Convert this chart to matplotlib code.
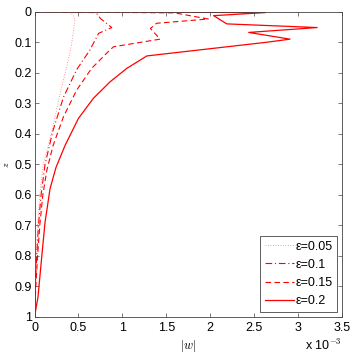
import matplotlib
matplotlib.use('Agg')
import matplotlib.pyplot as plt

plt.rcParams['font.family'] = ['Liberation Sans', 'DejaVu Sans']
plt.rcParams['mathtext.fontset'] = 'cm'

# |w| in units of 1e-3, against depth z
z_02 = [0, 0.003, 0.013, 0.04, 0.052, 0.068, 0.09, 0.10, 0.145, 0.186, 0.23, 0.284,
        0.35, 0.437, 0.51, 0.58, 0.69, 0.81, 0.934, 1.0]
w_02 = [0, 2.63, 2.04, 2.19, 3.22, 2.44, 2.91, 2.65, 1.28, 1.05, 0.86, 0.67,
        0.50, 0.35, 0.245, 0.177, 0.12, 0.08, 0.04, 0]

z_015 = [0, 0.004, 0.012, 0.024, 0.038, 0.055, 0.09, 0.115, 0.131, 0.186, 0.257,
         0.344, 0.44, 0.52, 0.6, 0.7, 0.8, 0.9, 1.0]
w_015 = [0, 1.6, 1.75, 1.98, 1.39, 1.32, 1.43, 0.90, 0.84, 0.65, 0.48,
         0.33, 0.21, 0.14, 0.095, 0.06, 0.035, 0.015, 0]

z_01 = [0, 0.003, 0.022, 0.052, 0.071, 0.126, 0.19, 0.28, 0.39, 0.5, 0.6, 0.7,
        0.8, 0.9, 1.0]
w_01 = [0, 0.70, 0.75, 0.88, 0.73, 0.63, 0.48, 0.33, 0.21, 0.12, 0.075, 0.045,
        0.025, 0.01, 0]

z_005 = [0, 0.003, 0.011, 0.027, 0.07, 0.11, 0.158, 0.27, 0.39, 0.5, 0.6, 0.7,
         0.8, 0.9, 1.0]
w_005 = [0, 0.40, 0.44, 0.46, 0.44, 0.42, 0.385, 0.29, 0.2, 0.10, 0.06, 0.035,
         0.02, 0.008, 0]

labels = ['\u03b5=0.05', '\u03b5=0.1', '\u03b5=0.15', '\u03b5=0.2']

fig = plt.figure(figsize=(3.54, 3.54), dpi=100)
ax = fig.add_axes([0.0975, 0.105, 0.868, 0.862])

ax.plot(w_005, z_005, color='#ff7777', linestyle=(0, (1, 2)), lw=0.6, label=labels[0])
ax.plot(w_01, z_01, color='r', linestyle=(0, (6, 2.5, 1, 2.5)), lw=0.8, label=labels[1])
ax.plot(w_015, z_015, color='r', linestyle=(0, (5, 3)), lw=0.8, label=labels[2])
ax.plot(w_02, z_02, color='r', linestyle='-', lw=0.9, label=labels[3])

ax.set_xlim(0, 3.5)
ax.set_ylim(1, 0)
ax.set_xticks([0, 0.5, 1, 1.5, 2, 2.5, 3, 3.5])
ax.set_xticklabels(['0', '0.5', '1', '1.5', '2', '2.5', '3', '3.5'])
ax.set_yticks([i / 10 for i in range(11)])
ax.set_yticklabels(['0', '0.1', '0.2', '0.3', '0.4', '0.5', '0.6', '0.7', '0.8', '0.9', '1'])
ax.tick_params(direction='in', top=True, right=True, length=3, width=0.5,
               labelsize=9, color='#444444')
ax.tick_params(axis='x', pad=4)
ax.tick_params(axis='y', pad=2)
for s in ax.spines.values():
    s.set_linewidth(0.6)
    s.set_color('#444444')

ax.set_xlabel('$|w|$', fontsize=9)
ax.xaxis.set_label_coords(0.5, -0.068)
ax.set_ylabel('$z$', fontsize=7)
ax.yaxis.set_label_coords(-0.078, 0.5)

fig.text(0.862, 0.025, 'x 10$^{-3}$', fontsize=9, va='center', ha='left')

leg = ax.legend(loc='lower right', bbox_to_anchor=(0.986, 0.015), borderaxespad=0,
                fontsize=9, fancybox=False, edgecolor='#444444', framealpha=1,
                handlelength=2.3, handletextpad=0.1, labelspacing=0.5,
                borderpad=0.4)
leg.get_frame().set_linewidth(0.6)

fig.savefig('out.png', dpi=100)
